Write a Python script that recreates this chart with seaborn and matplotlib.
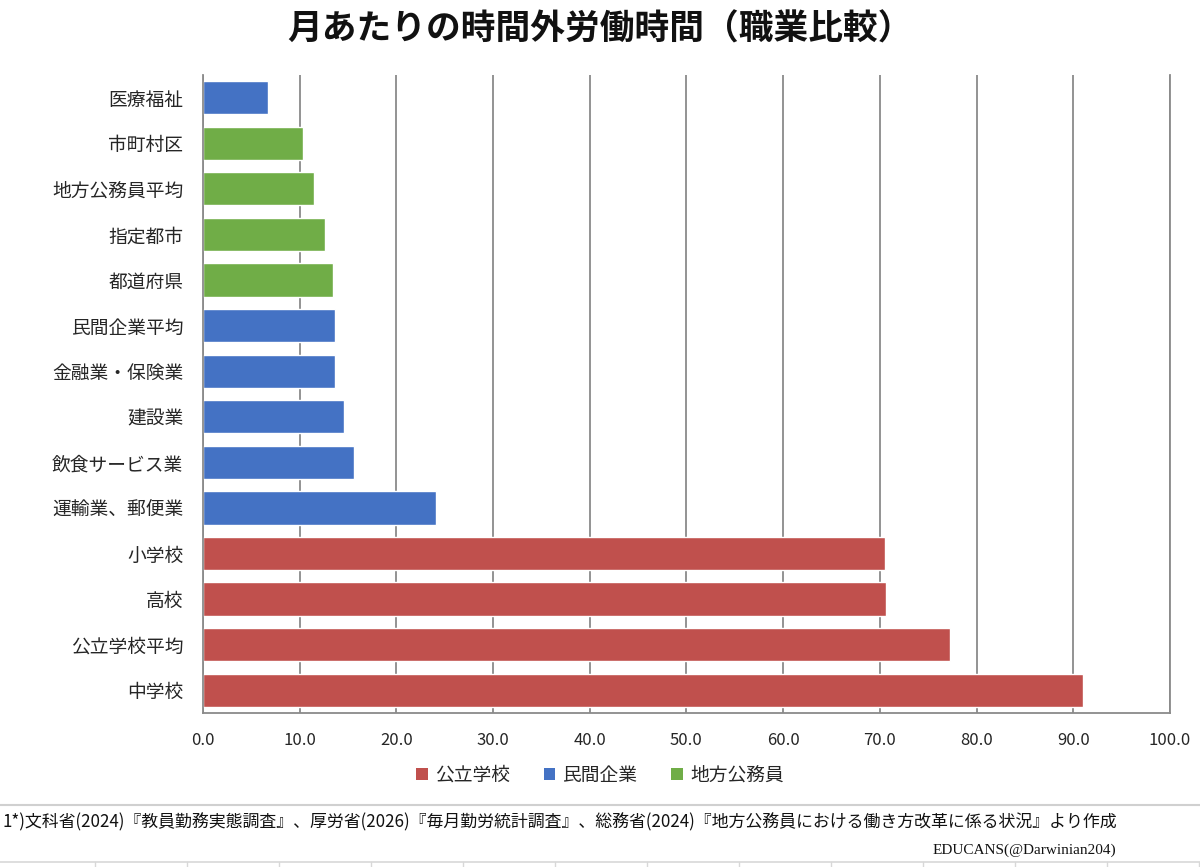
import matplotlib
matplotlib.use("Agg")
import matplotlib.pyplot as plt
import seaborn as sns
import pandas as pd
from matplotlib.patches import Patch
from matplotlib.lines import Line2D

sns.set_theme(style="white")
plt.rcParams['font.family'] = ['Noto Sans CJK JP', 'DejaVu Sans']

categories = ["医療福祉", "市町村区", "地方公務員平均", "指定都市", "都道府県",
              "民間企業平均", "金融業・保険業", "建設業", "飲食サービス業",
              "運輸業、郵便業", "小学校", "高校", "公立学校平均", "中学校"]
values = [6.7, 10.4, 11.5, 12.6, 13.5, 13.7, 13.7, 14.6, 15.6, 24.1,
          70.5, 70.6, 77.3, 91.0]
groups = ["民間企業", "地方公務員", "地方公務員", "地方公務員", "地方公務員",
          "民間企業", "民間企業", "民間企業", "民間企業", "民間企業",
          "公立学校", "公立学校", "公立学校", "公立学校"]
legend_order = ["公立学校", "民間企業", "地方公務員"]
colors = {"公立学校": "#C0504D", "民間企業": "#4472C4", "地方公務員": "#70AD47"}
xticks = [0, 10, 20, 30, 40, 50, 60, 70, 80, 90, 100]

title = "月あたりの時間外労働時間（職業比較）"
footnote = "1*)文科省(2024)『教員勤務実態調査』、厚労省(2026)『毎月勤労統計調査』、総務省(2024)『地方公務員における働き方改革に係る状況』より作成"
credit = "EDUCANS(@Darwinian204)"

df = pd.DataFrame({"cat": categories, "val": values, "grp": groups})

fig = plt.figure(figsize=(12, 8.67), dpi=100)
ax = fig.add_axes([0.169, 0.1776, 0.806, 0.736])

sns.barplot(data=df, x="val", y="cat", hue="grp", order=categories,
            hue_order=legend_order, palette=colors, dodge=False,
            width=0.73, ax=ax, legend=False, saturation=1)

ax.set_xlim(0, 100)
ax.set_ylim(13.5, -0.5)
ax.set_xticks(xticks)
ax.set_xticklabels([f"{t:.1f}" for t in xticks], fontsize=12, color="#262626")
ax.tick_params(axis="y", labelsize=13.5, labelcolor="#262626", length=0, pad=14)
ax.tick_params(axis="x", length=0, pad=14)
ax.set_xlabel("")
ax.set_ylabel("")
ax.xaxis.grid(True, color="#8a8a8a", linewidth=1.3)
ax.set_axisbelow(True)
ax.spines["top"].set_visible(False)
for s in ["left", "bottom", "right"]:
    ax.spines[s].set_color("#8a8a8a")
    ax.spines[s].set_linewidth(1.3)

fig.text(0.5, 0.966, title, ha="center", va="center", fontsize=25,
         fontweight="bold", color="#111111")

handles = [Patch(facecolor=colors[g], edgecolor="none") for g in legend_order]
fig.legend(handles, legend_order, loc="center", bbox_to_anchor=(0.5, 0.106),
           ncol=3, frameon=False, fontsize=13.5, handlelength=0.6,
           handleheight=0.6, handletextpad=0.4, columnspacing=1.8)

# separator and spreadsheet-like lines
fig.add_artist(Line2D([0, 1], [1 - 805 / 867] * 2, color="#d0d0d0", linewidth=1.5,
                      transform=fig.transFigure))
fig.add_artist(Line2D([0, 1], [1 - 862 / 867] * 2, color="#d8d8d8", linewidth=1.2,
                      transform=fig.transFigure))
for xp in range(95, 1200, 92):
    fig.add_artist(Line2D([xp / 1200] * 2, [0, 1 - 862 / 867], color="#d8d8d8",
                          linewidth=1.0, transform=fig.transFigure))

fig.text(0.002, 1 - 822 / 867, footnote, ha="left", va="center", fontsize=12.2,
         color="#111111")
fig.text(0.93, 1 - 850 / 867, credit, ha="right", va="center", fontsize=11,
         family="Liberation Serif", color="#111111")

fig.savefig("out.png", dpi=100)
